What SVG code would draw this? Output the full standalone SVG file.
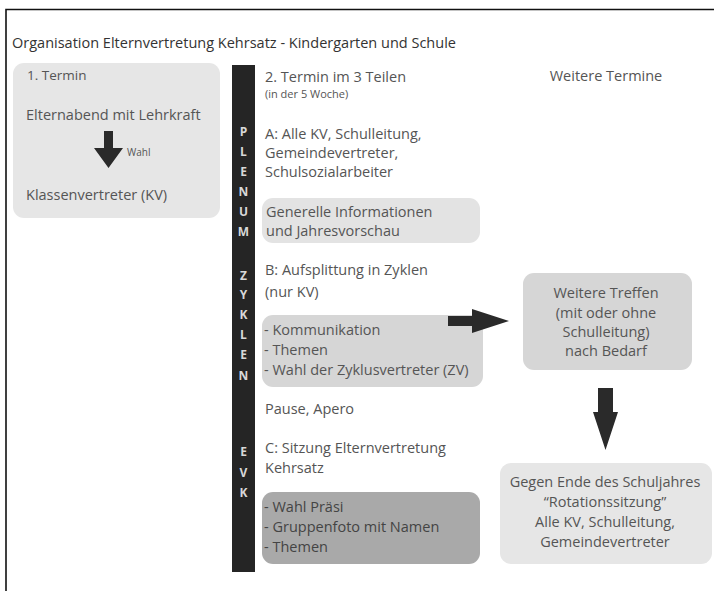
<svg xmlns="http://www.w3.org/2000/svg" width="714" height="591" viewBox="0 0 714 591">
<style>
.t{font-family:"Open Sans","Liberation Sans",sans-serif;font-size:14.5px;fill:#555}
.s{font-size:11px}
.c{text-anchor:middle}
.bar{font-family:"Open Sans","Liberation Sans",sans-serif;font-size:12px;font-weight:bold;fill:#d8d8d8;text-anchor:middle}
.dk{fill:#444}
</style>
<rect width="714" height="591" fill="#fff"/>
<path d="M6 591V9.5H714" fill="none" stroke="#111" stroke-width="1.6"/>
<text class="t" x="12" y="48" style="fill:#333">Organisation Elternvertretung Kehrsatz - Kindergarten und Schule</text>

<g id="termin1">
<rect x="13" y="63" width="207" height="155" rx="11" fill="#e6e6e6"/>
<text class="t" x="27" y="80" style="font-size:13.5px">1. Termin</text>
<text class="t" x="26" y="120">Elternabend mit Lehrkraft</text>
<path d="M104 131h9v17h10l-14.5 20l-14.5-20h10z" fill="#2a2a2a"/>
<text class="t" x="127" y="156" style="font-size:10px">Wahl</text>
<text class="t" x="26" y="200">Klassenvertreter (KV)</text>
</g>

<g id="bar">
<rect x="232" y="65" width="23" height="507" fill="#252525"/>
<text class="bar" x="243.5" y="136">P</text>
<text class="bar" x="243.5" y="156">L</text>
<text class="bar" x="243.5" y="176">E</text>
<text class="bar" x="243.5" y="196">N</text>
<text class="bar" x="243.5" y="216">U</text>
<text class="bar" x="243.5" y="236">M</text>
<text class="bar" x="243.5" y="280">Z</text>
<text class="bar" x="243.5" y="299">Y</text>
<text class="bar" x="243.5" y="319">K</text>
<text class="bar" x="243.5" y="339">L</text>
<text class="bar" x="243.5" y="359">E</text>
<text class="bar" x="243.5" y="380">N</text>
<text class="bar" x="243.5" y="456">E</text>
<text class="bar" x="243.5" y="477">V</text>
<text class="bar" x="243.5" y="497">K</text>
</g>

<g id="termin2">
<text class="t" x="265" y="82">2. Termin im 3 Teilen</text>
<text class="t s" x="265" y="98">(in der 5 Woche)</text>
<text class="t" x="265" y="139">A: Alle KV, Schulleitung,</text>
<text class="t" x="265" y="158">Gemeindevertreter,</text>
<text class="t" x="265" y="177">Schulsozialarbeiter</text>
</g>

<g id="info">
<rect x="262" y="198" width="218" height="45" rx="11" fill="#e3e3e3"/>
<text class="t" x="266" y="217">Generelle Informationen</text>
<text class="t" x="266" y="236">und Jahresvorschau</text>
</g>

<g id="zyklen">
<text class="t" x="265" y="275">B: Aufsplittung in Zyklen</text>
<text class="t" x="265" y="297">(nur KV)</text>
</g>

<g id="kommunikation">
<rect x="262" y="315" width="221" height="72" rx="11" fill="#d6d6d6"/>
<text class="t" x="264" y="335">- Kommunikation</text>
<text class="t" x="264" y="355">- Themen</text>
<text class="t" x="264" y="375">- Wahl der Zyklusvertreter (ZV)</text>
</g>

<g id="pause">
<text class="t" x="265" y="414">Pause, Apero</text>
</g>

<g id="evk">
<text class="t" x="265" y="453">C: Sitzung Elternvertretung</text>
<text class="t" x="265" y="473">Kehrsatz</text>
</g>

<g id="praesi">
<rect x="262" y="492" width="218" height="72" rx="11" fill="#a9a9a9"/>
<text class="t dk" x="264" y="512">- Wahl Präsi</text>
<text class="t dk" x="264" y="532">- Gruppenfoto mit Namen</text>
<text class="t dk" x="264" y="552">- Themen</text>
</g>

<g id="weitere">
<text class="t c" x="606" y="81">Weitere Termine</text>
</g>

<g id="treffen">
<rect x="523" y="273" width="169" height="97" rx="11" fill="#d6d6d6"/>
<text class="t c" x="606" y="298">Weitere Treffen</text>
<text class="t c" x="606" y="318">(mit oder ohne</text>
<text class="t c" x="606" y="337">Schulleitung)</text>
<text class="t c" x="606" y="356">nach Bedarf</text>
</g>

<g id="rotation">
<rect x="500" y="463" width="212" height="101" rx="11" fill="#e6e6e6"/>
<text class="t c" x="605" y="487">Gegen Ende des Schuljahres</text>
<text class="t c" x="605" y="507">“Rotationssitzung”</text>
<text class="t c" x="605" y="527">Alle KV, Schulleitung,</text>
<text class="t c" x="605" y="547">Gemeindevertreter</text>
</g>

<g id="connectors">
<path d="M448 316h24v-7l37 12l-37 12v-7h-24z" fill="#2a2a2a"/>
<path d="M598 388h15v24h5l-12.5 38l-12.5-38h5z" fill="#2a2a2a"/>
</g>
</svg>
